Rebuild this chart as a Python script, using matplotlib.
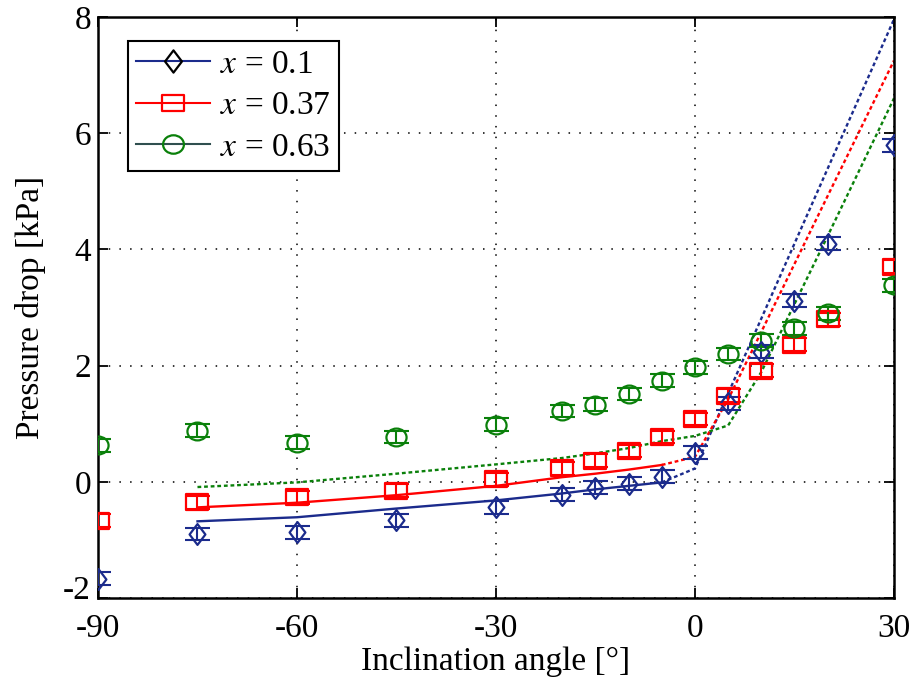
import matplotlib
matplotlib.use("Agg")
import matplotlib.pyplot as plt
from matplotlib.lines import Line2D
from matplotlib.path import Path
from matplotlib.transforms import Affine2D, ScaledTranslation

plt.rcParams["font.family"] = ["Liberation Serif", "DejaVu Serif"]
plt.rcParams["mathtext.fontset"] = "stix"
plt.rcParams["axes.unicode_minus"] = False

# measured points
angles = [-90, -75, -60, -45, -30, -20, -15, -10, -5, 0, 5, 10, 15, 20, 30]
dp_x010 = [-1.67, -0.90, -0.87, -0.66, -0.44, -0.22, -0.10, -0.03, 0.09, 0.50, 1.35, 2.24, 3.12, 4.10, 5.79]
dp_x037 = [-0.67, -0.35, -0.27, -0.15, 0.04, 0.23, 0.36, 0.53, 0.77, 1.08, 1.48, 1.91, 2.36, 2.80, 3.70]
dp_x063 = [0.63, 0.88, 0.67, 0.77, 0.98, 1.22, 1.33, 1.51, 1.74, 1.97, 2.20, 2.43, 2.64, 2.90, 3.38]
dp_err = 0.11

# model curves
model_angles = [-75, -60, -45, -30, -20, -15, -10, -5, 0, 5, 10, 15, 20, 30]
model_x010 = [-0.68, -0.61, -0.46, -0.32, -0.20, -0.13, -0.07, -0.01, 0.23, 1.52, 2.81, 4.10, 5.39, 7.96]
model_x037 = [-0.44, -0.36, -0.23, -0.07, 0.08, 0.14, 0.21, 0.29, 0.43, 1.42, 2.58, 3.75, 4.92, 7.25]
model_x063 = [-0.09, -0.01, 0.14, 0.30, 0.41, 0.49, 0.58, 0.70, 0.79, 0.97, 1.89, 3.06, 4.23, 6.60]

labels = [r"$x$ = 0.1", r"$x$ = 0.37", r"$x$ = 0.63"]
xticks = [-90, -60, -30, 0, 30]
yticks = [-2, 0, 2, 4, 6, 8]

BLUE = "#1b2b8c"
RED = "#ff0000"
GREEN = "#0a800a"
FS = 24

# slightly stretched marker shapes, like the original export
diamond = Path([(-0.38, 0), (0, 0.5), (0.38, 0), (0, -0.5), (-0.38, 0)],
               [Path.MOVETO, Path.LINETO, Path.LINETO, Path.LINETO, Path.CLOSEPOLY])
square = Path([(-0.68, -0.5), (0.68, -0.5), (0.68, 0.5), (-0.68, 0.5), (-0.68, -0.5)],
              [Path.MOVETO, Path.LINETO, Path.LINETO, Path.LINETO, Path.CLOSEPOLY])
circle = Affine2D().scale(1.13, 1.0).transform_path(Path.unit_circle())

fig = plt.figure(figsize=(9.14, 6.88), dpi=100)
ax = fig.add_axes([0.1072, 0.1308, 0.8709, 0.8445])

series = [
    (dp_x010, model_x010, BLUE, diamond, 15, True),
    (dp_x037, model_x037, RED, square, 15.5, True),
    (dp_x063, model_x063, GREEN, circle, 14.5, False),
]

n_solid = model_angles.index(-5) + 1
for dp, model, c, mk, ms, has_solid in series:
    ax.errorbar(angles, dp, yerr=dp_err, fmt="none", ecolor=c,
                elinewidth=1.5, capsize=9, capthick=1.5, zorder=3)
    ax.plot(angles, dp, linestyle="none", marker=mk, markersize=ms,
            mfc="none", mec=c, mew=1.6, zorder=4)
    if has_solid:
        ax.plot(model_angles[:n_solid], model[:n_solid], "-", color=c, lw=1.7, zorder=2)
        ax.plot(model_angles[n_solid - 1:], model[n_solid - 1:], color=c, lw=1.7,
                dashes=(1.6, 1.2), zorder=2)
    else:
        ax.plot(model_angles, model, color=c, lw=1.7, dashes=(1.6, 1.2), zorder=2)

ax.set_xlim(-90, 30)
ax.set_ylim(-2, 8)
ax.set_xticks(xticks)
ax.set_yticks(yticks)
ax.grid(True, color="black", linestyle=(0, (1, 6)), linewidth=1.1)
ax.tick_params(direction="in", length=7, width=1.3, labelsize=FS,
               top=True, right=True, pad=5)
ax.tick_params(axis="x", pad=11)
for s in ax.spines.values():
    s.set_linewidth(1.8)
ax.set_xlabel("Inclination angle [°]", fontsize=FS, labelpad=2)
ax.set_ylabel("Pressure drop [kPa]", fontsize=FS, labelpad=12)

# lift the bottom y label so it sits above "-90", as in the original
fig.canvas.draw()
lift = ScaledTranslation(0, 8 / 72, fig.dpi_scale_trans)
ylab0 = ax.get_yticklabels()[0]
ylab0.set_transform(ylab0.get_transform() + lift)

handles = [
    Line2D([], [], color=BLUE, lw=1.5, marker=diamond, markersize=16,
           mfc="none", mec="black", mew=1.6),
    Line2D([], [], color=RED, lw=1.5, marker=square, markersize=16,
           mfc="none", mec=RED, mew=1.6),
    Line2D([], [], color="#2f4f4f", lw=1.5, marker=circle, markersize=15,
           mfc="none", mec=GREEN, mew=1.6),
]
leg = ax.legend(handles, labels, loc="upper left", bbox_to_anchor=(0.0377, 0.9587),
                borderaxespad=0, fontsize=FS, handlelength=2.2, handletextpad=0.3,
                labelspacing=0.33, borderpad=0.25, fancybox=False, framealpha=1,
                edgecolor="black")
leg.get_frame().set_linewidth(1.5)

fig.savefig("out.png", dpi=100)
